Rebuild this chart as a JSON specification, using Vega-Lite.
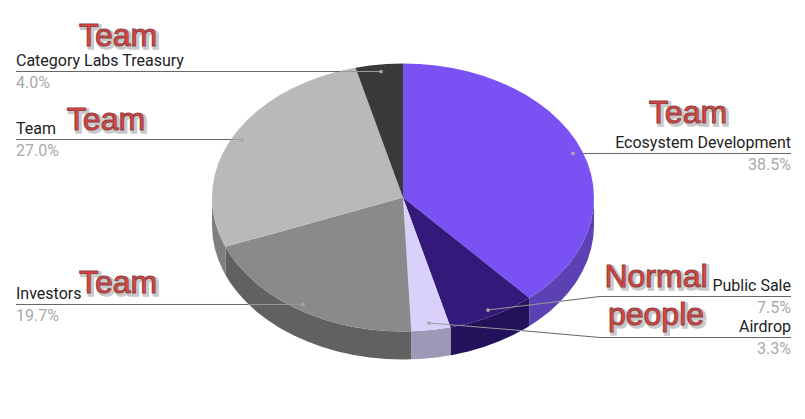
{
"$schema":"https://vega.github.io/schema/vega-lite/v6.json",
"width":805,"height":419,"padding":0,"autosize":{"type":"none"},"background":"#ffffff",
"config":{"view":{"stroke":null}},
"datasets":{
"top":[
{"s":"Ecosystem Development","i":0,"x":0,"y":0},{"s":"Ecosystem Development","i":1,"x":0,"y":100},{"s":"Ecosystem Development","i":2,"x":8.72,"y":99.62},{"s":"Ecosystem Development","i":3,"x":17.36,"y":98.48},{"s":"Ecosystem Development","i":4,"x":25.88,"y":96.59},{"s":"Ecosystem Development","i":5,"x":34.2,"y":93.97},{"s":"Ecosystem Development","i":6,"x":42.26,"y":90.63},{"s":"Ecosystem Development","i":7,"x":50,"y":86.6},{"s":"Ecosystem Development","i":8,"x":57.36,"y":81.92},{"s":"Ecosystem Development","i":9,"x":64.28,"y":76.6},{"s":"Ecosystem Development","i":10,"x":70.71,"y":70.71},{"s":"Ecosystem Development","i":11,"x":76.6,"y":64.28},{"s":"Ecosystem Development","i":12,"x":81.92,"y":57.36},{"s":"Ecosystem Development","i":13,"x":86.6,"y":50},{"s":"Ecosystem Development","i":14,"x":90.63,"y":42.26},{"s":"Ecosystem Development","i":15,"x":93.97,"y":34.2},{"s":"Ecosystem Development","i":16,"x":96.59,"y":25.88},{"s":"Ecosystem Development","i":17,"x":98.48,"y":17.36},{"s":"Ecosystem Development","i":18,"x":99.62,"y":8.72},{"s":"Ecosystem Development","i":19,"x":100,"y":0},{"s":"Ecosystem Development","i":20,"x":99.62,"y":-8.72},{"s":"Ecosystem Development","i":21,"x":98.48,"y":-17.36},{"s":"Ecosystem Development","i":22,"x":96.59,"y":-25.88},{"s":"Ecosystem Development","i":23,"x":93.97,"y":-34.2},{"s":"Ecosystem Development","i":24,"x":90.63,"y":-42.26},{"s":"Ecosystem Development","i":25,"x":86.6,"y":-50},{"s":"Ecosystem Development","i":26,"x":81.92,"y":-57.36},{"s":"Ecosystem Development","i":27,"x":76.6,"y":-64.28},{"s":"Ecosystem Development","i":28,"x":70.71,"y":-70.71},{"s":"Ecosystem Development","i":29,"x":66.13,"y":-75.02},
{"s":"Public Sale","i":0,"x":0,"y":0},{"s":"Public Sale","i":1,"x":66.13,"y":-75.02},{"s":"Public Sale","i":2,"x":64.28,"y":-76.6},{"s":"Public Sale","i":3,"x":57.36,"y":-81.92},{"s":"Public Sale","i":4,"x":50,"y":-86.6},{"s":"Public Sale","i":5,"x":42.26,"y":-90.63},{"s":"Public Sale","i":6,"x":34.2,"y":-93.97},{"s":"Public Sale","i":7,"x":25.88,"y":-96.59},{"s":"Public Sale","i":8,"x":24.87,"y":-96.86},
{"s":"Airdrop","i":0,"x":0,"y":0},{"s":"Airdrop","i":1,"x":24.87,"y":-96.86},{"s":"Airdrop","i":2,"x":17.36,"y":-98.48},{"s":"Airdrop","i":3,"x":8.72,"y":-99.62},{"s":"Airdrop","i":4,"x":4.36,"y":-99.9},
{"s":"Investors","i":0,"x":0,"y":0},{"s":"Investors","i":1,"x":4.36,"y":-99.9},{"s":"Investors","i":2,"x":0,"y":-100},{"s":"Investors","i":3,"x":-8.72,"y":-99.62},{"s":"Investors","i":4,"x":-17.36,"y":-98.48},{"s":"Investors","i":5,"x":-25.88,"y":-96.59},{"s":"Investors","i":6,"x":-34.2,"y":-93.97},{"s":"Investors","i":7,"x":-42.26,"y":-90.63},{"s":"Investors","i":8,"x":-50,"y":-86.6},{"s":"Investors","i":9,"x":-57.36,"y":-81.92},{"s":"Investors","i":10,"x":-64.28,"y":-76.6},{"s":"Investors","i":11,"x":-70.71,"y":-70.71},{"s":"Investors","i":12,"x":-76.6,"y":-64.28},{"s":"Investors","i":13,"x":-81.92,"y":-57.36},{"s":"Investors","i":14,"x":-86.6,"y":-50},{"s":"Investors","i":15,"x":-90.63,"y":-42.26},{"s":"Investors","i":16,"x":-92.98,"y":-36.81},
{"s":"Team","i":0,"x":0,"y":0},{"s":"Team","i":1,"x":-92.98,"y":-36.81},{"s":"Team","i":2,"x":-93.97,"y":-34.2},{"s":"Team","i":3,"x":-96.59,"y":-25.88},{"s":"Team","i":4,"x":-98.48,"y":-17.36},{"s":"Team","i":5,"x":-99.62,"y":-8.72},{"s":"Team","i":6,"x":-100,"y":0},{"s":"Team","i":7,"x":-99.62,"y":8.72},{"s":"Team","i":8,"x":-98.48,"y":17.36},{"s":"Team","i":9,"x":-96.59,"y":25.88},{"s":"Team","i":10,"x":-93.97,"y":34.2},{"s":"Team","i":11,"x":-90.63,"y":42.26},{"s":"Team","i":12,"x":-86.6,"y":50},{"s":"Team","i":13,"x":-81.92,"y":57.36},{"s":"Team","i":14,"x":-76.6,"y":64.28},{"s":"Team","i":15,"x":-70.71,"y":70.71},{"s":"Team","i":16,"x":-64.28,"y":76.6},{"s":"Team","i":17,"x":-57.36,"y":81.92},{"s":"Team","i":18,"x":-50,"y":86.6},{"s":"Team","i":19,"x":-42.26,"y":90.63},{"s":"Team","i":20,"x":-34.2,"y":93.97},{"s":"Team","i":21,"x":-25.88,"y":96.59},{"s":"Team","i":22,"x":-24.87,"y":96.86},
{"s":"Category Labs Treasury","i":0,"x":0,"y":0},{"s":"Category Labs Treasury","i":1,"x":-24.87,"y":96.86},{"s":"Category Labs Treasury","i":2,"x":-17.36,"y":98.48},{"s":"Category Labs Treasury","i":3,"x":-8.72,"y":99.62},{"s":"Category Labs Treasury","i":4,"x":0,"y":100}
],
"wall":[
{"s":"Ecosystem Development","x":100,"y":0,"y2":-20.9},{"s":"Ecosystem Development","x":99.62,"y":-8.72,"y2":-29.62},{"s":"Ecosystem Development","x":98.48,"y":-17.36,"y2":-38.26},{"s":"Ecosystem Development","x":96.59,"y":-25.88,"y2":-46.78},{"s":"Ecosystem Development","x":93.97,"y":-34.2,"y2":-55.1},{"s":"Ecosystem Development","x":90.63,"y":-42.26,"y2":-63.16},{"s":"Ecosystem Development","x":86.6,"y":-50,"y2":-70.9},{"s":"Ecosystem Development","x":81.92,"y":-57.36,"y2":-78.26},{"s":"Ecosystem Development","x":76.6,"y":-64.28,"y2":-85.18},{"s":"Ecosystem Development","x":70.71,"y":-70.71,"y2":-91.61},{"s":"Ecosystem Development","x":66.13,"y":-75.02,"y2":-95.92},
{"s":"Public Sale","x":66.13,"y":-75.02,"y2":-95.92},{"s":"Public Sale","x":64.28,"y":-76.6,"y2":-97.5},{"s":"Public Sale","x":57.36,"y":-81.92,"y2":-102.82},{"s":"Public Sale","x":50,"y":-86.6,"y2":-107.5},{"s":"Public Sale","x":42.26,"y":-90.63,"y2":-111.53},{"s":"Public Sale","x":34.2,"y":-93.97,"y2":-114.87},{"s":"Public Sale","x":25.88,"y":-96.59,"y2":-117.49},{"s":"Public Sale","x":24.87,"y":-96.86,"y2":-117.76},
{"s":"Airdrop","x":24.87,"y":-96.86,"y2":-117.76},{"s":"Airdrop","x":17.36,"y":-98.48,"y2":-119.38},{"s":"Airdrop","x":8.72,"y":-99.62,"y2":-120.52},{"s":"Airdrop","x":4.36,"y":-99.9,"y2":-120.8},
{"s":"Investors","x":4.36,"y":-99.9,"y2":-120.8},{"s":"Investors","x":0,"y":-100,"y2":-120.9},{"s":"Investors","x":-8.72,"y":-99.62,"y2":-120.52},{"s":"Investors","x":-17.36,"y":-98.48,"y2":-119.38},{"s":"Investors","x":-25.88,"y":-96.59,"y2":-117.49},{"s":"Investors","x":-34.2,"y":-93.97,"y2":-114.87},{"s":"Investors","x":-42.26,"y":-90.63,"y2":-111.53},{"s":"Investors","x":-50,"y":-86.6,"y2":-107.5},{"s":"Investors","x":-57.36,"y":-81.92,"y2":-102.82},{"s":"Investors","x":-64.28,"y":-76.6,"y2":-97.5},{"s":"Investors","x":-70.71,"y":-70.71,"y2":-91.61},{"s":"Investors","x":-76.6,"y":-64.28,"y2":-85.18},{"s":"Investors","x":-81.92,"y":-57.36,"y2":-78.26},{"s":"Investors","x":-86.6,"y":-50,"y2":-70.9},{"s":"Investors","x":-90.63,"y":-42.26,"y2":-63.16},{"s":"Investors","x":-92.98,"y":-36.81,"y2":-57.71},
{"s":"Team","x":-92.98,"y":-36.81,"y2":-57.71},{"s":"Team","x":-93.97,"y":-34.2,"y2":-55.1},{"s":"Team","x":-96.59,"y":-25.88,"y2":-46.78},{"s":"Team","x":-98.48,"y":-17.36,"y2":-38.26},{"s":"Team","x":-99.62,"y":-8.72,"y2":-29.62},{"s":"Team","x":-100,"y":0,"y2":-20.9}
],
"leaders":[
{"seg":"a1","part":"outside","i":0,"x":-202.62,"y":94.03},{"seg":"a1","part":"outside","i":1,"x":-33,"y":94.03},
{"seg":"a2","part":"inside","i":0,"x":-33,"y":94.03},{"seg":"a2","part":"inside","i":1,"x":-11.52,"y":94.03},
{"seg":"b1","part":"outside","i":0,"x":-202.62,"y":43.28},{"seg":"b1","part":"outside","i":1,"x":-89.97,"y":43.28},
{"seg":"b2","part":"inside","i":0,"x":-89.97,"y":43.28},{"seg":"b2","part":"inside","i":1,"x":-84.29,"y":43.28},
{"seg":"c1","part":"outside","i":0,"x":-202.62,"y":-79.85},{"seg":"c1","part":"outside","i":1,"x":-81.05,"y":-79.85},
{"seg":"c2","part":"inside","i":0,"x":-81.05,"y":-79.85},{"seg":"c2","part":"inside","i":1,"x":-52.36,"y":-79.85},
{"seg":"d1","part":"outside","i":0,"x":203.14,"y":32.84},{"seg":"d1","part":"outside","i":1,"x":94.32,"y":32.84},
{"seg":"e1","part":"outside","i":0,"x":203.14,"y":-73.88},{"seg":"e1","part":"outside","i":1,"x":103.14,"y":-73.88},{"seg":"e1","part":"outside","i":2,"x":82.5,"y":-77.43},
{"seg":"e2","part":"inside","i":0,"x":82.5,"y":-77.43},{"seg":"e2","part":"inside","i":1,"x":44.5,"y":-83.96},
{"seg":"f1","part":"outside","i":0,"x":203.14,"y":-104.48},{"seg":"f1","part":"outside","i":1,"x":103.14,"y":-104.48},{"seg":"f1","part":"outside","i":2,"x":62,"y":-99.3},
{"seg":"f2","part":"inside","i":0,"x":62,"y":-99.3},{"seg":"f2","part":"inside","i":1,"x":13.61,"y":-93.66}
],
"dots":[{"x":-11.52,"y":94.03},{"x":-84.29,"y":43.28},{"x":-52.36,"y":-79.85},{"x":89,"y":32.84},{"x":44.5,"y":-83.96},{"x":13.61,"y":-93.66}],
"labels":[
{"label":"Category Labs Treasury","share":0.04,"side":"left","x":-202.62,"yName":98.13,"yPct":81.72},
{"label":"Team","share":0.27,"side":"left","x":-202.62,"yName":47.39,"yPct":30.97},
{"label":"Investors","share":0.197,"side":"left","x":-202.62,"yName":-75.75,"yPct":-92.16},
{"label":"Ecosystem Development","share":0.385,"side":"right","x":203.14,"yName":36.94,"yPct":20.52},
{"label":"Public Sale","share":0.075,"side":"right","x":203.14,"yName":-69.78,"yPct":-86.19},
{"label":"Airdrop","share":0.033,"side":"right","x":203.14,"yName":-100.37,"yPct":-116.79}
],
"notes":[
{"t":"Team","x":-149.21,"y":113.06},{"t":"Team","x":-155.5,"y":50.37},{"t":"Team","x":-149.21,"y":-71.27},{"t":"Team","x":149.21,"y":55.6},{"t":"Normal","x":132.46,"y":-66.79},{"t":"people","x":132.46,"y":-95.15}
]
},
"encoding":{
"x":{"field":"x","type":"quantitative","axis":null,"scale":{"domain":[-210.99,210.47],"nice":false,"zero":false}},
"y":{"field":"y","type":"quantitative","axis":null,"scale":{"domain":[-165.3,147.39],"nice":false,"zero":false}}
},
"layer":[
{"data":{"name":"wall"},"mark":{"type":"area","interpolate":"linear"},
 "encoding":{"y":{"field":"y","type":"quantitative","stack":null},"y2":{"field":"y2"},
  "color":{"field":"s","type":"nominal","legend":null,"scale":{"domain":["Ecosystem Development","Public Sale","Airdrop","Investors","Team"],"range":["#5c41b4","#22125a","#9d98b5","#616161","#7f7f7f"]}}}},
{"data":{"name":"top"},"mark":{"type":"line","filled":true,"interpolate":"linear","strokeWidth":0},
 "encoding":{"order":{"field":"i","type":"quantitative"},
  "color":{"field":"s","type":"nominal","legend":null,"scale":{"domain":["Ecosystem Development","Public Sale","Airdrop","Investors","Team","Category Labs Treasury"],"range":["#7a52f4","#32197a","#d9d1fb","#8a8a8a","#b9b9b9","#3a3a3a"]}}}},
{"data":{"name":"leaders"},"mark":{"type":"line","strokeWidth":1,"interpolate":"linear"},
 "encoding":{"detail":{"field":"seg"},"order":{"field":"i","type":"quantitative"},
  "stroke":{"field":"part","type":"nominal","legend":null,"scale":{"domain":["outside","inside"],"range":["#666666","#999999"]}}}},
{"data":{"name":"dots"},"mark":{"type":"point","filled":true,"size":14,"color":"#a8a8a8","opacity":1}},
{"data":{"name":"labels"},"transform":[{"filter":"datum.side==='left'"}],"mark":{"type":"text","font":"Roboto","fontSize":16,"align":"left","baseline":"alphabetic","color":"#222222"},
 "encoding":{"y":{"field":"yName","type":"quantitative"},"text":{"field":"label"}}},
{"data":{"name":"labels"},"transform":[{"filter":"datum.side==='right'"}],"mark":{"type":"text","font":"Roboto","fontSize":16,"align":"right","baseline":"alphabetic","color":"#222222"},
 "encoding":{"y":{"field":"yName","type":"quantitative"},"text":{"field":"label"}}},
{"data":{"name":"labels"},"transform":[{"filter":"datum.side==='left'"}],"mark":{"type":"text","font":"Roboto","fontSize":16,"align":"left","baseline":"alphabetic","color":"#a9a9a9"},
 "encoding":{"y":{"field":"yPct","type":"quantitative"},"text":{"field":"share","format":".1%"}}},
{"data":{"name":"labels"},"transform":[{"filter":"datum.side==='right'"}],"mark":{"type":"text","font":"Roboto","fontSize":16,"align":"right","baseline":"alphabetic","color":"#a9a9a9"},
 "encoding":{"y":{"field":"yPct","type":"quantitative"},"text":{"field":"share","format":".1%"}}},
{"data":{"name":"notes"},"mark":{"type":"text","font":"Liberation Sans","fontSize":32,"align":"center","baseline":"alphabetic","dx":2,"dy":2,"color":"#666666","stroke":"#666666","strokeWidth":3.5,"opacity":0.35},
 "encoding":{"text":{"field":"t"}}},
{"data":{"name":"notes"},"mark":{"type":"text","font":"Liberation Sans","fontSize":32,"align":"center","baseline":"alphabetic","color":"#e8413f","stroke":"#8a4444","strokeWidth":1},
 "encoding":{"text":{"field":"t"}}}
],
"resolve":{"scale":{"color":"independent"}}
}
